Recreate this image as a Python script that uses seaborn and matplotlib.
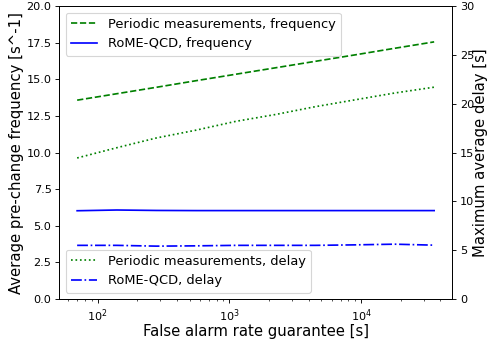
import seaborn as sns
import matplotlib.pyplot as plt

# false alarm rate guarantee [s]
far = [70, 140, 280, 560, 1120, 2240, 4480, 8960, 17920, 35840]

periodic_freq = [13.58, 14.02, 14.46, 14.91, 15.35, 15.79, 16.23, 16.67, 17.12, 17.56]
rome_freq = [6.03, 6.08, 6.05, 6.04, 6.04, 6.04, 6.04, 6.04, 6.04, 6.04]

periodic_delay = [14.45, 15.5, 16.5, 17.3, 18.2, 18.9, 19.7, 20.4, 21.1, 21.7]
rome_delay = [5.5, 5.5, 5.42, 5.45, 5.5, 5.5, 5.5, 5.55, 5.62, 5.52]

DPI = 81
fig, ax = plt.subplots(figsize=(492 / DPI, 341 / DPI), dpi=DPI)
fig.subplots_adjust(left=0.1205, right=0.9187, bottom=0.123, top=0.982)

sns.lineplot(x=far, y=periodic_freq, ax=ax, color='green', linestyle='--',
             label='Periodic measurements, frequency')
sns.lineplot(x=far, y=rome_freq, ax=ax, color='blue', linestyle='-',
             label='RoME-QCD, frequency')
ax.set_xscale('log')
ax.set_ylim(0, 20)
ax.set_xlabel('False alarm rate guarantee [s]', fontsize=13.2, labelpad=0)
ax.set_ylabel('Average pre-change frequency [s^-1]', fontsize=13.2, labelpad=2)
ax.tick_params(labelsize=10)
ax.legend(loc='upper left', fontsize=11.6)

ax2 = ax.twinx()
sns.lineplot(x=far, y=periodic_delay, ax=ax2, color='green', linestyle=':',
             label='Periodic measurements, delay')
sns.lineplot(x=far, y=rome_delay, ax=ax2, color='blue', linestyle='-.',
             label='RoME-QCD, delay')
ax2.set_ylim(0, 30)
ax2.set_ylabel('Maximum average delay [s]', fontsize=13.2, labelpad=-1)
ax2.tick_params(labelsize=10)
ax2.legend(loc='lower left', fontsize=11.6)

fig.savefig('out.png', dpi=DPI)
